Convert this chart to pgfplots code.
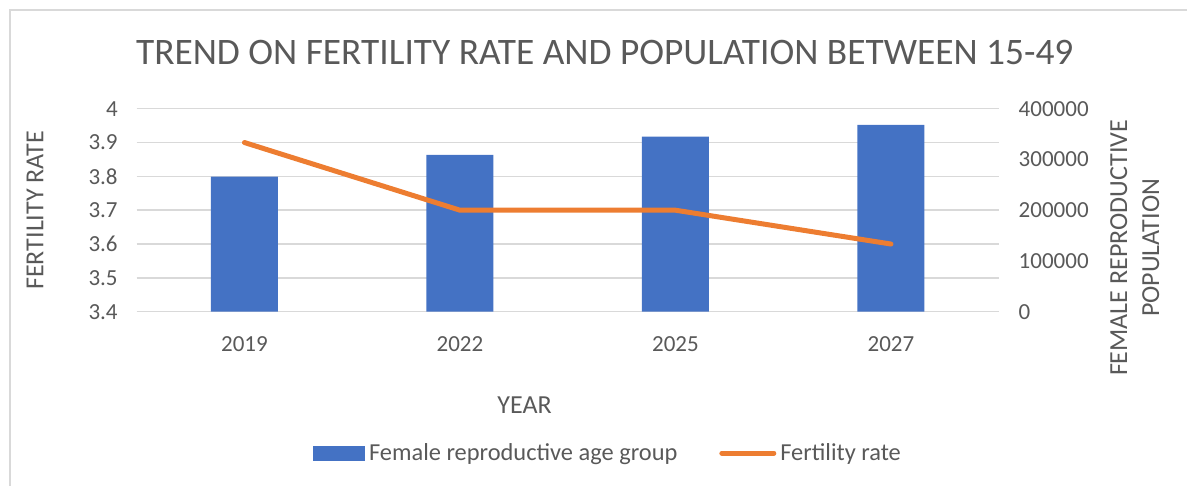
\documentclass[border=0pt]{standalone}
\usepackage{pgfplots}
\pgfplotsset{compat=1.18}
\usepackage{fontspec}
\setmainfont{Carlito}
\definecolor{barblue}{HTML}{4472C4}
\definecolor{lineorange}{HTML}{ED7D31}
\definecolor{gridgray}{HTML}{D9D9D9}
\definecolor{txtgray}{HTML}{595959}

\pgfplotsset{
  chartbase/.style={
    at={(68.35bp,87.15bp)}, anchor=south west,
    scale only axis, width=431bp, height=101.5bp,
    xmin=-0.5, xmax=3.5,
    axis line style={draw=none}, major tick length=0pt,
    tick label style={font=\fontsize{11.5bp}{13bp}\selectfont, text=txtgray},
    label style={font=\fontsize{13bp}{16bp}\selectfont, text=txtgray},
    /pgf/number format/assume math mode=true,
  }
}

\begin{document}
\begin{tikzpicture}
\path[use as bounding box] (0,0) rectangle (593.5bp,243bp);
\draw[gridgray, line width=0.75bp] (5bp,0) -- (5bp,238bp) -- (593.5bp,238bp);

% left scale: grid, year ticks, labels, title
\begin{axis}[chartbase,
  ymin=3.4, ymax=4,
  ytick={3.4,3.5,3.6,3.7,3.8,3.9,4},
  yticklabel style={/pgf/number format/fixed, /pgf/number format/precision=1, xshift=-6bp},
  ymajorgrids, grid style={gridgray, line width=0.75bp},
  xtick={0,1,2,3}, xticklabels={2019,2022,2025,2027},
  xticklabel style={yshift=-9bp},
  ylabel={FERTILITY RATE},
  ylabel style={at={(axis description cs:-0.118,0.5)}, anchor=center},
  xlabel={YEAR},
  xlabel style={at={(axis description cs:0.45,-0.46)}, anchor=center},
  title={TREND ON FERTILITY RATE AND POPULATION BETWEEN 15-49},
  title style={at={(axis description cs:0.543,1.217)}, anchor=center,
    font=\fontsize{18.7bp}{22bp}\selectfont, text=txtgray},
]
\end{axis}

% right scale: population bars
\begin{axis}[chartbase,
  axis y line*=right, axis x line=none,
  ymin=0, ymax=400000,
  ytick={0,100000,200000,300000,400000},
  scaled y ticks=false,
  yticklabel style={/pgf/number format/fixed, /pgf/number format/1000 sep={},
    anchor=west, xshift=6.5bp},
  ylabel={FEMALE REPRODUCTIVE\\POPULATION},
  ylabel style={at={(axis description cs:1.158,0.314)}, anchor=center, rotate=0,
    align=center},
  ybar, bar width=33.5bp,
]
\addplot[fill=barblue, draw=none] coordinates {(0,266000) (1,309000) (2,345000) (3,368000)};
\end{axis}

% left scale: fertility rate line and legend
\begin{axis}[chartbase,
  hide axis,
  ymin=3.4, ymax=4,
  legend style={draw=none, fill=none, at={(0.548,-0.697)}, anchor=center,
    legend columns=2, font=\fontsize{12.2bp}{14bp}\selectfont, text=txtgray,
    /tikz/every even column/.append style={column sep=19bp}},
  legend cell align=left,
]
\addlegendimage{legend image code/.code={\fill[barblue] (0bp,-3.5bp) rectangle (25.5bp,3.5bp);}}
\addlegendentry{Female reproductive age group}
\addplot[lineorange, line width=2.5bp, line cap=round, line join=round,
  legend image code/.code={\draw[lineorange, line width=2.5bp, line cap=round] (0bp,0bp) -- (26bp,0bp);}]
  coordinates {(0,3.9) (1,3.7) (2,3.7) (3,3.6)};
\addlegendentry{Fertility rate}
\end{axis}
\end{tikzpicture}
\end{document}
